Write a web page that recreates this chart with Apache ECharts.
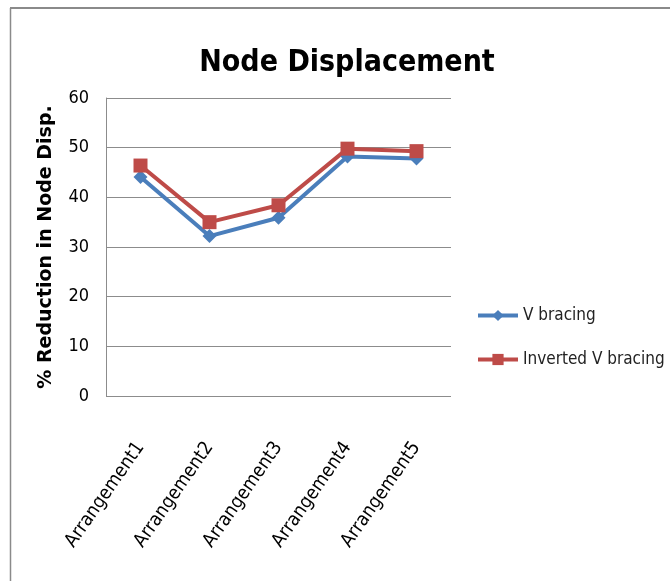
<!DOCTYPE html>
<html>
<head>
<meta charset="utf-8">
<script src="https://cdn.jsdelivr.net/npm/echarts@6/dist/echarts.min.js"></script>
<style>
html,body{margin:0;padding:0;background:#fff;}
#chart{width:670px;height:581px;}
</style>
</head>
<body>
<div id="chart"></div>
<script>
var categories = ['Arrangement1','Arrangement2','Arrangement3','Arrangement4','Arrangement5'];
var vBracing = [44.1, 32.2, 35.9, 48.2, 47.8];
var invertedVBracing = [46.4, 35.0, 38.4, 49.8, 49.3];
var yTicks = {min: 0, max: 60, interval: 10};
var FONT = '"DejaVu Sans Condensed", "Liberation Sans Narrow", "Open Sans", sans-serif';

var chart = echarts.init(document.getElementById('chart'));
chart.setOption({
  backgroundColor: '#ffffff',
  animation: false,
  title: {
    text: 'Node Displacement',
    left: 342, top: 43, textAlign: 'center',
    textStyle: {fontFamily: FONT, fontSize: 30, fontWeight: 'bold', color: '#000'}
  },
  graphic: [
    {type: 'line', shape: {x1: 10.5, y1: 8, x2: 10.5, y2: 581}, style: {stroke: '#8a8a8a', lineWidth: 1.5}},
    {type: 'line', shape: {x1: 10, y1: 8, x2: 670, y2: 8}, style: {stroke: '#8a8a8a', lineWidth: 2}}
  ],
  legend: {
    orient: 'vertical',
    left: 471, top: 302,
    itemGap: 27,
    itemWidth: 40, itemHeight: 14,
    lineStyle: {width: 4},
    textStyle: {fontFamily: FONT, fontSize: 17, color: '#222'},
    data: ['V bracing', 'Inverted V bracing']
  },
  grid: {left: 106, right: 219, top: 98, bottom: 185},
  xAxis: {
    type: 'category',
    data: categories,
    boundaryGap: true,
    axisLine: {show: false},
    axisTick: {show: false},
    axisLabel: {rotate: 55, margin: 48, fontFamily: FONT, fontSize: 19, color: '#000'}
  },
  yAxis: {
    type: 'value',
    min: yTicks.min, max: yTicks.max, interval: yTicks.interval,
    name: '% Reduction in Node Disp.',
    nameLocation: 'middle',
    nameGap: 50,
    nameTextStyle: {fontFamily: '"DejaVu Sans", sans-serif', fontSize: 19, fontWeight: 'bold', color: '#000'},
    axisLine: {show: true, lineStyle: {color: '#8c8c8c', width: 1}},
    axisTick: {show: false},
    axisLabel: {margin: 17, fontFamily: FONT, fontSize: 18, color: '#000'},
    splitLine: {lineStyle: {color: '#8c8c8c', width: 1}}
  },
  series: [
    {
      name: 'V bracing', type: 'line', data: vBracing,
      symbol: 'diamond', symbolSize: 14,
      lineStyle: {color: '#4a7ebb', width: 4},
      itemStyle: {color: '#4a7ebb'}
    },
    {
      name: 'Inverted V bracing', type: 'line', data: invertedVBracing,
      symbol: 'rect', symbolSize: 14,
      lineStyle: {color: '#be4b48', width: 4},
      itemStyle: {color: '#be4b48'}
    }
  ]
});
</script>
</body>
</html>
